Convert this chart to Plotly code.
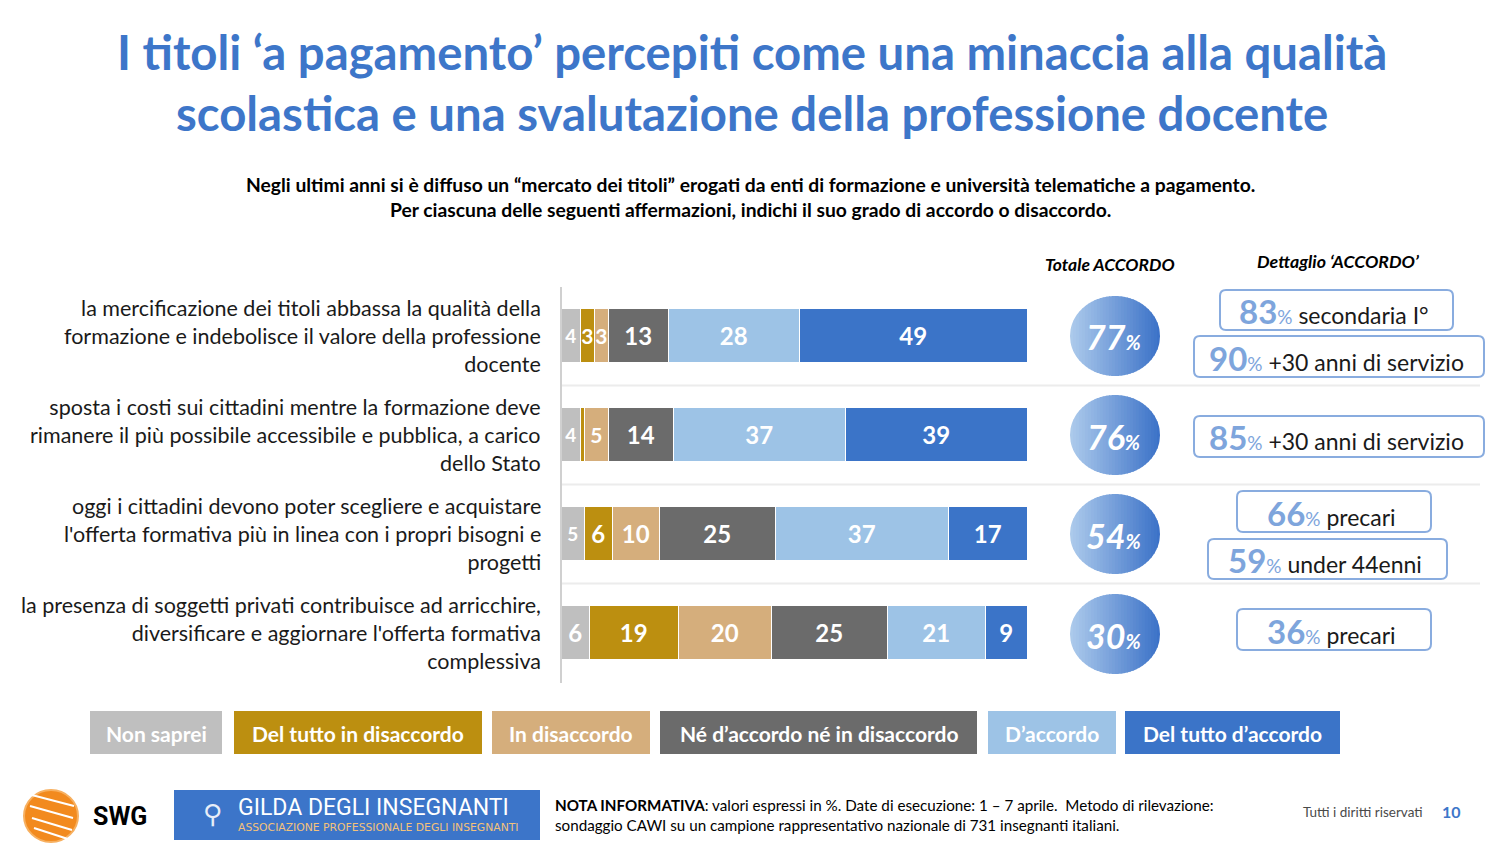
import plotly.graph_objects as go
import math

W, H = 1500, 844

# ---------------- DATA ----------------
statements = [
    "la mercificazione dei titoli abbassa la qualità della<br>formazione e indebolisce il valore della professione<br>docente",
    "sposta i costi sui cittadini mentre la formazione deve<br>rimanere il più possibile accessibile e pubblica, a carico<br>dello Stato",
    "oggi i cittadini devono poter scegliere e acquistare<br>l'offerta formativa più in linea con i propri bisogni e<br>progetti",
    "la presenza di soggetti privati contribuisce ad arricchire,<br>diversificare e aggiornare l'offerta formativa<br>complessiva",
]
series_names = ["Non saprei", "Del tutto in disaccordo", "In disaccordo",
                "Né d’accordo né in disaccordo", "D’accordo", "Del tutto d’accordo"]
non_saprei = [4, 4, 5, 6]
del_tutto_disaccordo = [3, 1, 6, 19]
in_disaccordo = [3, 5, 10, 20]
ne_ne = [13, 14, 25, 25]
d_accordo = [28, 37, 37, 21]
del_tutto_accordo = [49, 39, 17, 9]
totale_accordo = [77, 76, 54, 30]
detail_values = [[83, 90], [85], [66, 59], [36]]
detail_labels = [["secondaria I°", "+30 anni di servizio"], ["+30 anni di servizio"],
                 ["precari", "under 44enni"], ["precari"]]

# ---------------- STYLE ----------------
colors = ["#bfbfbf", "#bc8f10", "#d5ae7c", "#6b6b6b", "#9dc3e6", "#3b74c8"]
FONT = "Lato"
BLUE = "#3d76c9"


def px(x):
    return x / W


def py(y):
    return 1 - y / H


def note(x, y, text, size, color="black", family=FONT, xanchor="center", align="center", **kw):
    d = dict(xref="paper", yref="paper", x=px(x), y=py(y), text=text, showarrow=False,
             xanchor=xanchor, yanchor="middle", align=align,
             font=dict(size=size, color=color, family=family))
    d.update(kw)
    return d


series = [non_saprei, del_tutto_disaccordo, in_disaccordo, ne_ne, d_accordo, del_tutto_accordo]
ypos = list(range(len(statements)))

fig = go.Figure()
for name, vals, col in zip(series_names, series, colors):
    txt = [str(v) if v >= 3 else "" for v in vals]
    sizes = [19 if (v <= 5 and name == "Non saprei") else (21 if v <= 5 else 24) for v in vals]
    fig.add_trace(go.Bar(
        y=ypos, x=vals, orientation="h", name=name,
        marker=dict(color=col, line=dict(color="white", width=1.5)),
        text=txt, textposition="inside", insidetextanchor="middle",
        textangle=0, constraintext="none",
        textfont=dict(color="white", size=sizes, family=FONT),
        texttemplate="<b>%{text}</b>",
        width=0.55, showlegend=False, hoverinfo="skip",
    ))

y_top, y_bot = 286.5, 682.5
fig.update_layout(
    width=W, height=H, margin=dict(l=0, r=0, t=0, b=0),
    paper_bgcolor="white", plot_bgcolor="white",
    barmode="stack", bargap=0,
    font=dict(family=FONT, color="black"),
    xaxis=dict(domain=[px(562), px(1028)], range=[0, 100], visible=False, fixedrange=True),
    yaxis=dict(domain=[py(y_bot), py(y_top)], range=[3.5, -0.5], showticklabels=False,
               showgrid=False, zeroline=False, showline=True, linecolor="#d0d0d0",
               linewidth=2, ticks="", fixedrange=True),
)

shapes = []
annots = []

# row separators
for b in [0.5, 1.5, 2.5]:
    shapes.append(dict(type="line", xref="paper", yref="y", x0=px(562), x1=px(1480),
                       y0=b, y1=b, line=dict(color="#ececec", width=2), layer="below"))

# row labels
for i, s in enumerate(statements):
    annots.append(dict(xref="paper", yref="y", x=px(543), y=i, text=s, showarrow=False,
                       xanchor="right", yanchor="middle", align="right",
                       font=dict(size=21.5, color="#1a1a1a", family=FONT)))

# title
annots.append(note(752, 82,
                   "<b>I titoli ‘a pagamento’ percepiti come una minaccia alla qualità<br>scolastica e una svalutazione della professione docente</b>",
                   47.3, color=BLUE))
# subtitle
annots.append(note(750, 197,
                   "<b>Negli ultimi anni si è diffuso un “mercato dei titoli” erogati da enti di formazione e università telematiche a pagamento.<br>Per ciascuna delle seguenti affermazioni, indichi il suo grado di accordo o disaccordo.</b>",
                   19.3))

# column headers
annots.append(note(1110, 264, "<b><i>Totale ACCORDO</i></b>", 17.5))
annots.append(note(1338, 261, "<b><i>Dettaglio ‘ACCORDO’</i></b>", 17.8))


# gradient ellipses for totale accordo
def lerp_col(c1, c2, t):
    a = [int(c1[i:i + 2], 16) for i in (1, 3, 5)]
    b = [int(c2[i:i + 2], 16) for i in (1, 3, 5)]
    return "rgb(%d,%d,%d)" % tuple(round(a[k] + (b[k] - a[k]) * t) for k in range(3))


def ellipse_slices(cx, cy, rx, ry, n=30):
    out = []
    for k in range(n):
        xa = cx - rx + 2 * rx * k / n
        xb = min(cx - rx + 2 * rx * (k + 1) / n + 0.6, cx + rx)
        pts_top, pts_bot = [], []
        m = 6
        for j in range(m + 1):
            x = xa + (xb - xa) * j / m
            u = max(0.0, 1 - ((x - cx) / rx) ** 2)
            dy = ry * math.sqrt(u)
            pts_top.append((x, cy - dy))
            pts_bot.append((x, cy + dy))
        poly = pts_top + pts_bot[::-1]
        path = "M " + " L ".join("%.5f,%.5f" % (px(x), py(y)) for x, y in poly) + " Z"
        t = (k + 0.5) / n
        out.append(dict(type="path", xref="paper", yref="paper", path=path,
                        fillcolor=lerp_col("#aecbec", "#3a71c7", t), line=dict(width=0)))
    return out


row_cy = [336, 435, 534, 634]
for i, v in enumerate(totale_accordo):
    shapes += ellipse_slices(1115, row_cy[i], 45, 40)
    annots.append(note(1113, row_cy[i] + 1,
                       "<b><i>%d</i></b><b><i><span style='font-size:20px'>%%</span></i></b>" % v,
                       34, color="white"))


# detail boxes
def rrect(x0, y0, x1, y1, r=6):
    pts = [
        "M %.5f,%.5f" % (px(x0 + r), py(y0)),
        "L %.5f,%.5f" % (px(x1 - r), py(y0)),
        "Q %.5f,%.5f %.5f,%.5f" % (px(x1), py(y0), px(x1), py(y0 + r)),
        "L %.5f,%.5f" % (px(x1), py(y1 - r)),
        "Q %.5f,%.5f %.5f,%.5f" % (px(x1), py(y1), px(x1 - r), py(y1)),
        "L %.5f,%.5f" % (px(x0 + r), py(y1)),
        "Q %.5f,%.5f %.5f,%.5f" % (px(x0), py(y1), px(x0), py(y1 - r)),
        "L %.5f,%.5f" % (px(x0), py(y0 + r)),
        "Q %.5f,%.5f %.5f,%.5f" % (px(x0), py(y0), px(x0 + r), py(y0)),
        "Z",
    ]
    return " ".join(pts)


box_geom = [
    [(1220, 290, 1453, 330), (1194, 336, 1484, 377)],
    [(1194, 416, 1484, 457)],
    [(1237, 491, 1431, 532), (1208, 539, 1447, 579)],
    [(1237, 609, 1431, 650)],
]
for i in range(len(detail_values)):
    for j, (v, lab) in enumerate(zip(detail_values[i], detail_labels[i])):
        x0, y0, x1, y1 = box_geom[i][j]
        shapes.append(dict(type="path", xref="paper", yref="paper", path=rrect(x0, y0, x1, y1),
                           fillcolor="white", line=dict(color="#89acdf", width=2)))
        annots.append(note((x0 + x1) / 2 - 3, (y0 + y1) / 2 + 1,
                           ("<b><span style='color:#7ea5dc;font-size:33px'>%d</span></b>"
                            "<span style='color:#7ea5dc;font-size:19px'>%%</span>"
                            "<span style='font-size:23px'> %s</span>") % (v, lab),
                           23, color="#1a1a1a"))

# custom legend
leg_geom = [(90, 222), (234, 482), (492, 650), (660, 977), (988, 1116), (1125, 1340)]
for name, col, (x0, x1) in zip(series_names, colors, leg_geom):
    shapes.append(dict(type="rect", xref="paper", yref="paper", x0=px(x0), x1=px(x1),
                       y0=py(754), y1=py(711), fillcolor=col, line=dict(width=0)))
    annots.append(note((x0 + x1) / 2, 733, "<b>%s</b>" % name, 21, color="white"))

# footer: SWG logo
shapes.append(dict(type="circle", xref="paper", yref="paper", x0=px(24), x1=px(78),
                   y0=py(842), y1=py(790), fillcolor="#f28a1e", line=dict(color="#f7b060", width=2)))
for k, yy in enumerate([800, 812, 824, 834]):
    shapes.append(dict(type="line", xref="paper", yref="paper", x0=px(28 + k * 2), x1=px(74 - k),
                       y0=py(yy - 6), y1=py(yy + 6), line=dict(color="white", width=2)))
annots.append(note(120, 816, "<b>SWG</b>", 25, family="Roboto"))
# Gilda box
shapes.append(dict(type="rect", xref="paper", yref="paper", x0=px(174), x1=px(540),
                   y0=py(840), y1=py(790), fillcolor="#3c75c9", line=dict(width=0)))
annots.append(note(212, 814, "⚲", 26, color="#e8eef8", family="DejaVu Sans"))
annots.append(note(236, 807, "GILDA DEGLI INSEGNANTI", 23, color="white", family="Roboto",
                   xanchor="left"))
annots.append(note(236, 827, "ASSOCIAZIONE PROFESSIONALE DEGLI INSEGNANTI", 10.8, color="#f3c27a",
                   family="DejaVu Sans", xanchor="left"))
# nota
annots.append(note(553, 815,
                   "<b>NOTA INFORMATIVA</b>: valori espressi in %. Date di esecuzione: 1 – 7 aprile.  Metodo di rilevazione:<br>sondaggio CAWI su un campione rappresentativo nazionale di 731 insegnanti italiani.",
                   15.2, xanchor="left", align="left"))
annots.append(note(1425, 812, "Tutti i diritti riservati", 13.5, color="#4a4a4a", xanchor="right"))
annots.append(note(1451, 811, "<b>10</b>", 16, color=BLUE))

fig.update_layout(shapes=shapes, annotations=annots)
fig.write_html("out.html", config={"displayModeBar": False},
               post_script="document.body.style.margin='0px';")
